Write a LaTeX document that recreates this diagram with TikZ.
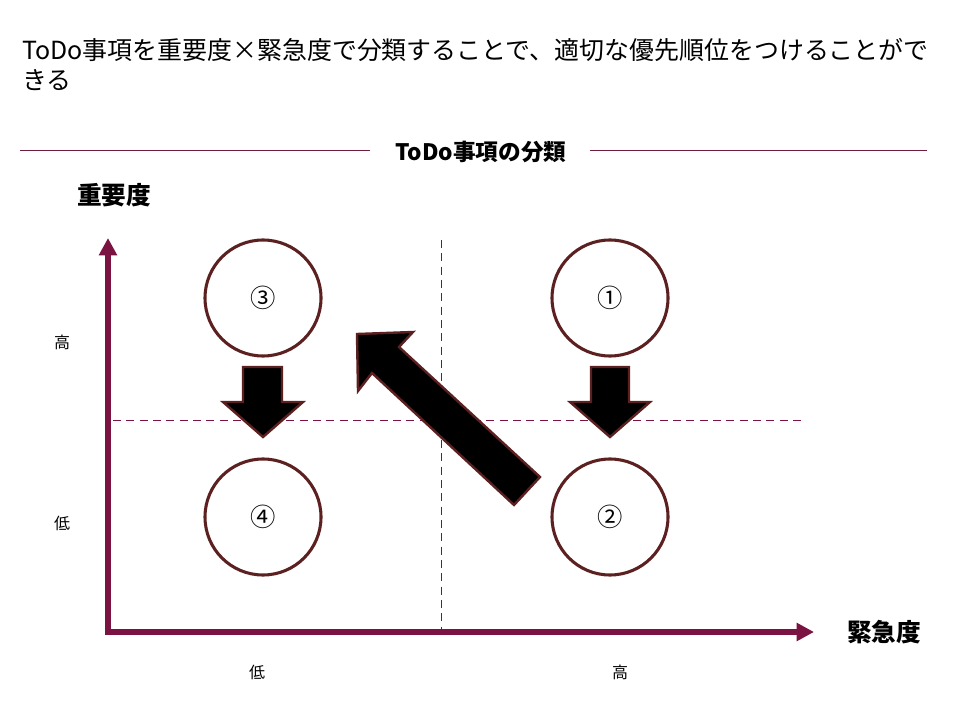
\documentclass[tikz,border=0pt]{standalone}
\usepackage{fontspec}
\setmainfont{Noto Sans CJK JP}
\usetikzlibrary{arrows.meta}
\definecolor{axiscol}{RGB}{122,18,66}
\definecolor{rulecol}{RGB}{110,30,60}
\definecolor{circcol}{RGB}{92,32,32}
\tikzset{
  titletext/.style={inner sep=0pt, font=\fontsize{18.7}{22}\selectfont, anchor=west},
  headtext/.style={inner sep=0pt, font=\fontsize{17}{21}\selectfont\bfseries},
  axistitle/.style={inner sep=0pt, font=\fontsize{18.5}{22}\selectfont\bfseries},
  axislabel/.style={inner sep=0pt, font=\fontsize{12}{14}\selectfont},
  axisline/.style={draw=axiscol, line width=3.8pt, -{Triangle[length=13pt,width=13pt]}},
  guide/.style={draw=axiscol, line width=0.7pt, dash pattern=on 6pt off 4pt},
  quad/.style={circle, draw=circcol, line width=2.3pt, minimum size=87pt, inner sep=0pt, font=\fontsize{19}{22}\selectfont},
  blockarrow/.style={fill=black, draw=circcol, line width=1.8pt, line join=miter},
  headrule/.style={draw=rulecol, line width=0.7pt}
}
\begin{document}
\begin{tikzpicture}[x=0.75pt, y=-0.75pt]
\useasboundingbox (0,0) rectangle (960,720);
% title
\node[titletext] (t1) at (22,50) {ToDo事項を重要度×緊急度で分類することで、適切な優先順位をつけることがで};
\node[titletext] (t2) at (22,80) {きる};
% header
\node[headtext] (hd) at (481,152) {ToDo事項の分類};
\coordinate (hl1) at (20,150);
\coordinate (hl2) at (370,150);
\coordinate (hr1) at (590,150);
\coordinate (hr2) at (927,150);
\draw[headrule] (hl1) -- (hl2);
\draw[headrule] (hr1) -- (hr2);
% axis titles
\node[axistitle] (ytitle) at (114,195) {重要度};
\node[axistitle] (xtitle) at (884,632) {緊急度};
% guides
\coordinate (vg1) at (441,240);
\coordinate (vg2) at (441,630);
\coordinate (hg1) at (113,420);
\coordinate (hg2) at (805,420);
\draw[guide] (vg1) -- (vg2);
\draw[guide] (hg1) -- (hg2);
% axes
\coordinate (orig) at (108,632);
\coordinate (ytip) at (108,238);
\coordinate (xtip) at (814,632);
\draw[axisline] ([yshift=-2pt]orig) -- (ytip);
\draw[axisline] ([xshift=-2pt]orig) -- (xtip);
% axis labels
\node[axislabel] (yhigh) at (62,342) {高};
\node[axislabel] (ylow) at (62,523) {低};
\node[axislabel] (xlow) at (257,672) {低};
\node[axislabel] (xhigh) at (620,672) {高};
% block arrows
\draw[blockarrow] (243,367) -- (282,367) -- (282,402) -- (303,402) -- (263,437) -- (223,402) -- (243,402) -- cycle;
\draw[blockarrow] (591,367) -- (629,367) -- (629,402) -- (650,402) -- (610,437) -- (570,402) -- (591,402) -- cycle;
\draw[blockarrow] (357,334) -- (413,332) -- (399,347) -- (540,477) -- (514,505) -- (372,373) -- (358,391) -- cycle;
% circles
\node[quad] (c3) at (263,298) {③};
\node[quad] (c1) at (610,298) {①};
\node[quad] (c4) at (263,517) {④};
\node[quad] (c2) at (610,517) {②};
\end{tikzpicture}
\end{document}
